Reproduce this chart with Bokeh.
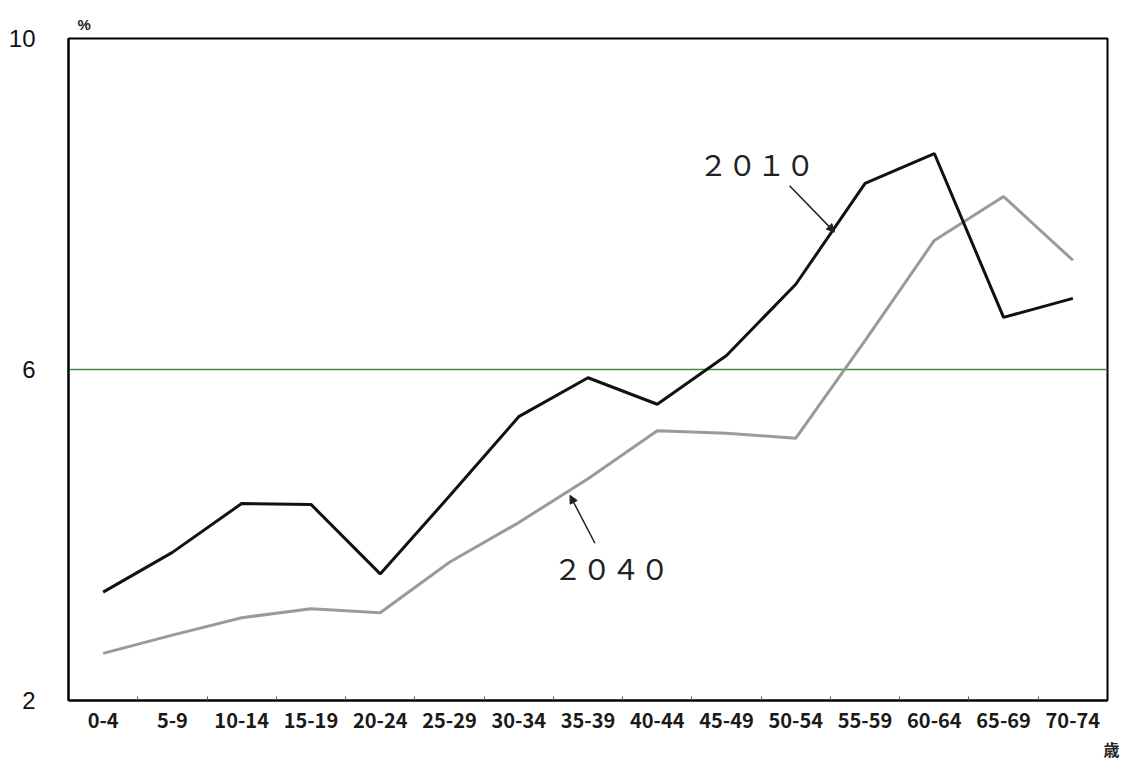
from bokeh.plotting import figure
from bokeh.models import FixedTicker, Label, Arrow, NormalHead, Range1d, Title
from bokeh.embed import file_html
from bokeh.resources import INLINE

categories = ["0-4", "5-9", "10-14", "15-19", "20-24", "25-29", "30-34", "35-39",
              "40-44", "45-49", "50-54", "55-59", "60-64", "65-69", "70-74"]
y2010 = [3.31, 3.79, 4.38, 4.37, 3.53, 4.47, 5.43, 5.90, 5.58, 6.17, 7.03, 8.25, 8.61, 6.63, 6.86]
y2040 = [2.57, 2.79, 3.00, 3.11, 3.06, 3.67, 4.15, 4.68, 5.26, 5.23, 5.17, 6.35, 7.56, 8.09, 7.32]
y_ticks = [2, 6, 10]

xs = list(range(1, len(categories) + 1))

W, H = 1125, 764
p = figure(width=W, height=H, output_backend="svg", toolbar_location=None,
           x_range=Range1d(0.5, len(categories) + 0.5), y_range=Range1d(2, 10),
           min_border_left=68, min_border_right=18, min_border_top=38, min_border_bottom=64)
p.background_fill_color = "white"
p.border_fill_color = "white"
p.outline_line_color = "black"
p.outline_line_width = 2

# x axis
p.xaxis.ticker = FixedTicker(ticks=xs, minor_ticks=[x + 0.5 for x in xs[:-1]])
p.xaxis.major_label_overrides = {x: c for x, c in zip(xs, categories)}
p.xaxis.major_tick_in = 0
p.xaxis.major_tick_out = 0
p.xaxis.minor_tick_in = 4
p.xaxis.minor_tick_out = 0
p.xaxis.minor_tick_line_color = "#555555"
p.xaxis.axis_line_color = "black"
p.xaxis.axis_line_width = 2
p.xaxis.major_label_standoff = 12
p.xaxis.major_label_text_font = "Noto Sans CJK JP"
p.xaxis.major_label_text_font_size = "20px"
p.xaxis.major_label_text_font_style = "bold"
p.xaxis.major_label_text_color = "#1a1a1a"

# y axis
p.yaxis.ticker = FixedTicker(ticks=y_ticks)
p.yaxis.major_tick_in = 0
p.yaxis.major_tick_out = 0
p.yaxis.minor_tick_in = 0
p.yaxis.minor_tick_out = 0
p.yaxis.axis_line_color = "black"
p.yaxis.axis_line_width = 2
p.yaxis.major_label_standoff = 33
p.yaxis.major_label_text_font = "Liberation Sans"
p.yaxis.major_label_text_font_size = "24px"
p.yaxis.major_label_text_color = "#111111"

p.xgrid.visible = False
p.ygrid.ticker = FixedTicker(ticks=[6])
p.ygrid.grid_line_color = "#4a874a"
p.ygrid.grid_line_width = 1.3

p.line(xs, y2040, line_color="#9a9a9a", line_width=3)
p.line(xs, y2010, line_color="#111111", line_width=3)

# annotations
p.add_layout(Label(x=9.6, y=8.50, text="２０１０", text_font="Noto Sans CJK JP",
                   text_font_size="29px", text_baseline="middle", text_color="#222222"))
p.add_layout(Label(x=7.5, y=3.61, text="２０４０", text_font="Noto Sans CJK JP",
                   text_font_size="29px", text_baseline="middle", text_color="#222222"))
p.add_layout(Arrow(x_start=10.91, y_start=8.22, x_end=11.56, y_end=7.66,
                   line_width=1.5, line_color="#222222",
                   end=NormalHead(size=8, fill_color="#222222", line_color="#222222")))
p.add_layout(Arrow(x_start=8.10, y_start=3.90, x_end=7.74, y_end=4.48,
                   line_width=1.5, line_color="#222222",
                   end=NormalHead(size=8, fill_color="#222222", line_color="#222222")))
p.add_layout(Title(text="%", align="left", offset=9, text_font="Liberation Sans",
                   text_font_size="15px", text_font_style="bold", text_color="#222222",
                   standoff=11), "above")
p.add_layout(Title(text="歳", align="right", offset=-12, text_font="Noto Sans CJK JP",
                   text_font_size="16px", text_font_style="bold", text_color="#222222",
                   standoff=8), "below")

open("out.html", "w").write(file_html(p, INLINE))
